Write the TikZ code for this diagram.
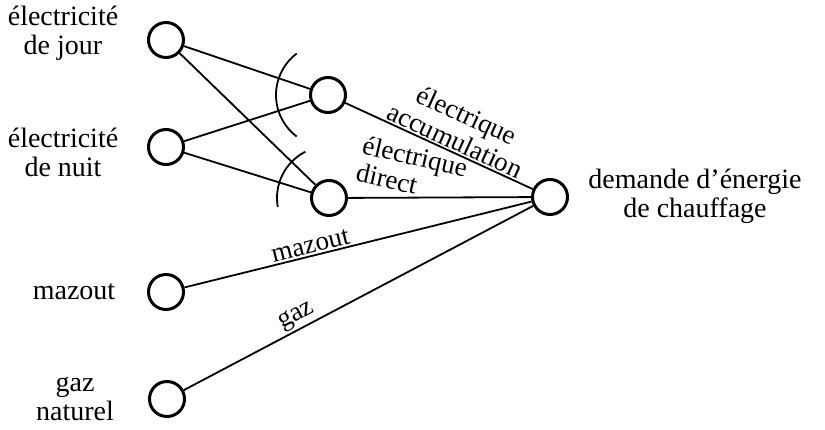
\documentclass[tikz,border=0pt]{standalone}
\usepackage{fontspec}
\setmainfont{Liberation Serif}
\begin{document}
\begin{tikzpicture}[x=1pt,y=-1pt,
  dot/.style={circle,draw,line width=3pt,minimum size=35pt,inner sep=0pt},
  conn/.style={line width=1.8pt},
  lbl/.style={font=\fontsize{28}{29}\selectfont,align=center,inner sep=0pt},
  elbl/.style={font=\fontsize{27}{28}\selectfont,inner sep=1.5pt}]
\useasboundingbox (0,0) rectangle (825,429);
\node[dot] (jour) at (166,40) {};
\node[dot] (nuit) at (166,147) {};
\node[dot] (maz) at (166,292) {};
\node[dot] (gaz) at (167,399) {};
\node[dot] (acc) at (328,95) {};
\node[dot] (dir) at (329,198) {};
\node[dot] (dem) at (550,197) {};
\node[lbl] (ljour) at (63,33) {électricité\\de jour};
\node[lbl] (lnuit) at (63,152) {électricité\\de nuit};
\node[lbl] (lmaz) at (74,292) {mazout};
\node[lbl] (lgaz) at (75,399) {gaz\\naturel};
\node[lbl] (ldem) at (695,196) {demande d’énergie\\de chauffage};
\draw[conn] (jour) -- (acc);
\draw[conn] (jour) -- (dir);
\draw[conn] (nuit) -- (acc);
\draw[conn] (nuit) -- (dir);
\draw[conn] (acc) -- node[elbl,sloped,above,pos=0.56,align=center] (lacc) {électrique\\accumulation} (dem);
\draw[conn] (dir) -- (dem);
\draw[conn] (maz) -- node[elbl,sloped,above,pos=0.37] (lmz) {mazout} (dem);
\draw[conn] (gaz) -- node[elbl,sloped,above,pos=0.34] (lgz) {gaz} (dem);
\node[elbl,rotate=-13,align=left] (ldir) at (412,170) {électrique\\direct};
\draw[conn] ([shift={(127:52)}]acc.center) arc[start angle=127,end angle=233,radius=52];
\draw[conn] ([shift={(170:52)}]dir.center) arc[start angle=170,end angle=243,radius=52];
\end{tikzpicture}
\end{document}
